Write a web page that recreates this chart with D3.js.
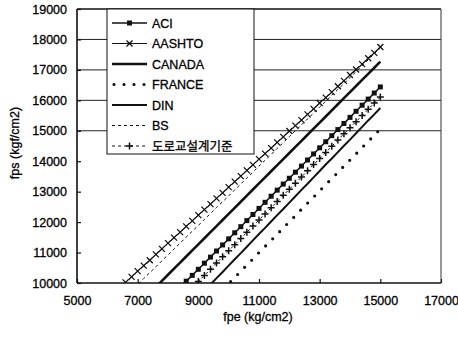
<!DOCTYPE html>
<html>
<head>
<meta charset="utf-8">
<script src="https://d3js.org/d3.v7.min.js"></script>
<style>
body {margin: 0; background: #fff;}
svg {display: block; font-family: 'Liberation Sans', Arial, sans-serif;}
svg text {stroke: #000; stroke-width: 0.3px;}
</style>
</head>
<body>
<div id="chart"></div>
<script>
// fpe (kg/cm2) sample points (every 200)
var fpe = [6600, 6800, 7000, 7200, 7400, 7600, 7800, 8000, 8200, 8400,
    8600, 8800, 9000, 9200, 9400, 9600, 9800, 10000, 10200, 10400,
    10600, 10800, 11000, 11200, 11400, 11600, 11800, 12000, 12200, 12400,
    12600, 12800, 13000, 13200, 13400, 13600, 13800, 14000, 14200, 14400,
    14600, 14800, 15000];

// fps (kgf/cm2) per code, values under 10000 fall below the axis and get clipped
var aci = [8060, 8260, 8460, 8660, 8860, 9060, 9260, 9460, 9660, 9860,
    10060, 10250, 10450, 10650, 10850, 11050, 11250, 11450, 11650, 11850,
    12050, 12250, 12450, 12650, 12850, 13050, 13250, 13440, 13640, 13840,
    14040, 14240, 14440, 14640, 14840, 15040, 15240, 15440, 15640, 15840,
    16040, 16240, 16440];
var aashto = [10020, 10200, 10390, 10570, 10750, 10940, 11120, 11310, 11490, 11670,
    11860, 12040, 12230, 12410, 12590, 12780, 12960, 13150, 13330, 13510,
    13700, 13880, 14070, 14250, 14430, 14620, 14800, 14990, 15170, 15350,
    15540, 15720, 15910, 16090, 16270, 16460, 16640, 16830, 17010, 17190,
    17380, 17560, 17750];
var canada = [8870, 9070, 9270, 9470, 9670, 9870, 10070, 10270, 10470, 10670,
    10870, 11070, 11270, 11470, 11670, 11870, 12070, 12270, 12470, 12670,
    12870, 13070, 13270, 13470, 13670, 13870, 14070, 14270, 14470, 14670,
    14870, 15070, 15270, 15470, 15670, 15870, 16070, 16270, 16470, 16670,
    16870, 17070, 17270];
var france = [6530, 6730, 6940, 7140, 7340, 7540, 7750, 7950, 8150, 8360,
    8560, 8760, 8970, 9170, 9370, 9570, 9780, 9980, 10180, 10390,
    10590, 10790, 11000, 11200, 11400, 11600, 11810, 12010, 12210, 12420,
    12620, 12820, 13030, 13230, 13430, 13630, 13840, 14040, 14240, 14450,
    14650, 14850, 15060];
var din = [7050, 7250, 7460, 7670, 7880, 8080, 8290, 8500, 8710, 8910,
    9120, 9330, 9530, 9740, 9950, 10160, 10360, 10570, 10780, 10980,
    11190, 11400, 11610, 11810, 12020, 12230, 12430, 12640, 12850, 13060,
    13260, 13470, 13680, 13890, 14090, 14300, 14510, 14710, 14920, 15130,
    15340, 15540, 15750];
var bs = [9560, 9760, 9950, 10150, 10340, 10530, 10730, 10920, 11120, 11310,
    11510, 11700, 11890, 12090, 12280, 12480, 12670, 12860, 13060, 13250,
    13450, 13640, 13840, 14030, 14220, 14420, 14610, 14810, 15000, 15190,
    15390, 15580, 15780, 15970, 16170, 16360, 16550, 16750, 16940, 17140,
    17330, 17530, 17720];
var korea = [7630, 7830, 8030, 8230, 8430, 8640, 8840, 9040, 9240, 9440,
    9650, 9850, 10050, 10250, 10450, 10660, 10860, 11060, 11260, 11460,
    11670, 11870, 12070, 12270, 12470, 12680, 12880, 13080, 13280, 13480,
    13690, 13890, 14090, 14290, 14490, 14700, 14900, 15100, 15300, 15500,
    15710, 15910, 16110];

var seriesNames = ['ACI', 'AASHTO', 'CANADA', 'FRANCE', 'DIN', 'BS', '도로교설계기준'];
var xTicks = [5000, 7000, 9000, 11000, 13000, 15000, 17000];
var yTicks = [10000, 11000, 12000, 13000, 14000, 15000, 16000, 17000, 18000, 19000];
var gridValues = [15000, 16000, 17000, 18000];

var width = 458, height = 338;
var plot = {left: 77, right: 441, top: 9, bottom: 283};

var styles = {
    'ACI': {width: 1.5, dash: null, marker: 'square'},
    'AASHTO': {width: 1, dash: null, marker: 'cross'},
    'CANADA': {width: 2.6, dash: null, marker: null},
    'FRANCE': {width: 3.2, dash: '0,10', marker: null, round: true},
    'DIN': {width: 2, dash: null, marker: null},
    'BS': {width: 1, dash: '3,3', marker: null},
    '도로교설계기준': {width: 1, dash: '3,3', marker: 'plus'}
};
var values = {
    'ACI': aci, 'AASHTO': aashto, 'CANADA': canada, 'FRANCE': france,
    'DIN': din, 'BS': bs, '도로교설계기준': korea
};

var x = d3.scaleLinear().domain([5000, 17000]).range([plot.left, plot.right]);
var y = d3.scaleLinear().domain([10000, 19000]).range([plot.bottom, plot.top]);

var svg = d3.select('#chart').append('svg')
    .attr('width', width)
    .attr('height', height);

svg.append('defs').append('clipPath')
    .attr('id', 'plotclip')
    .append('rect')
    .attr('x', plot.left)
    .attr('y', plot.top)
    .attr('width', plot.right - plot.left)
    .attr('height', plot.bottom - plot.top);

// gridlines
svg.append('g')
    .selectAll('line')
    .data(gridValues)
    .enter().append('line')
    .attr('x1', plot.left)
    .attr('x2', plot.right)
    .attr('y1', function(d) { return y(d); })
    .attr('y2', function(d) { return y(d); })
    .attr('stroke', '#222')
    .attr('stroke-width', 1);

// axes, ticks point inside like the original
var yAxis = d3.axisLeft(y).tickValues(yTicks).tickSize(-4).tickPadding(10).tickFormat(d3.format('d'));
var xAxis = d3.axisBottom(x).tickValues(xTicks).tickSize(-4).tickPadding(13).tickFormat(d3.format('d'));

var gy = svg.append('g')
    .attr('transform', translation(plot.left, 0))
    .call(yAxis);
var gx = svg.append('g')
    .attr('transform', translation(0, plot.bottom))
    .call(xAxis);

[gx, gy].forEach(function(g) {
    g.select('.domain').remove();
    g.selectAll('line').attr('stroke', '#111').attr('stroke-width', 1.2);
    g.selectAll('text')
        .attr('fill', '#000')
        .style('font-size', '12.5px')
        .style('font-family', "'Liberation Sans', Arial, sans-serif");
});

// frame
svg.append('line').attr('x1', plot.left).attr('x2', plot.right).attr('y1', plot.top).attr('y2', plot.top)
    .attr('stroke', '#111').attr('stroke-width', 1.5);
svg.append('line').attr('x1', plot.right).attr('x2', plot.right).attr('y1', plot.top).attr('y2', plot.bottom)
    .attr('stroke', '#333').attr('stroke-width', 1);
svg.append('line').attr('x1', plot.left).attr('x2', plot.left).attr('y1', plot.top).attr('y2', plot.bottom)
    .attr('stroke', '#111').attr('stroke-width', 1.6);
svg.append('line').attr('x1', plot.left).attr('x2', plot.right).attr('y1', plot.bottom).attr('y2', plot.bottom)
    .attr('stroke', '#111').attr('stroke-width', 1.6);

// series
var lineGen = d3.line()
    .x(function(d) { return x(d[0]); })
    .y(function(d) { return y(d[1]); });

var seriesG = svg.append('g').attr('clip-path', 'url(#plotclip)');

seriesNames.forEach(function(name) {
    var st = styles[name];
    var pts = fpe.map(function(f, i) { return [f, values[name][i]]; });
    seriesG.append('path')
        .datum(pts)
        .attr('d', lineGen)
        .attr('fill', 'none')
        .attr('stroke', '#111')
        .attr('stroke-width', st.width)
        .attr('stroke-dasharray', st.dash)
        .attr('stroke-linecap', st.round ? 'round' : 'butt');
    if (st.marker) {
        pts.forEach(function(p) {
            drawMarker(seriesG, st.marker, x(p[0]), y(p[1]));
        });
    }
});

// legend
var legend = svg.append('g').attr('transform', translation(107, plot.top));
legend.append('rect')
    .attr('x', 0)
    .attr('y', 0)
    .attr('width', 147)
    .attr('height', 145)
    .attr('fill', '#fff')
    .attr('stroke', '#111')
    .attr('stroke-width', 1);

seriesNames.forEach(function(name, i) {
    var st = styles[name];
    var ly = 14 + i * 20.5;
    legend.append('line')
        .attr('x1', name == 'FRANCE' ? 7 : 5)
        .attr('x2', 40)
        .attr('y1', ly)
        .attr('y2', ly)
        .attr('stroke', '#111')
        .attr('stroke-width', st.width)
        .attr('stroke-dasharray', st.dash)
        .attr('stroke-linecap', st.round ? 'round' : 'butt');
    if (st.marker) drawMarker(legend, st.marker, 22.5, ly);
    legend.append('text')
        .attr('x', 45)
        .attr('y', ly)
        .attr('dy', '0.36em')
        .attr('fill', '#000')
        .style('font-size', '12.5px')
        .style('font-family', name == '도로교설계기준' ? "'Noto Sans CJK KR', sans-serif" : "'Liberation Sans', Arial, sans-serif")
        .text(name);
});

// axis titles
svg.append('text')
    .attr('x', 258)
    .attr('y', 321)
    .attr('text-anchor', 'middle')
    .attr('fill', '#000')
    .style('font-size', '12.5px')
    .text('fpe (kg/cm2)');

svg.append('text')
    .attr('transform', translation(19, 143) + ' rotate(-90)')
    .attr('text-anchor', 'middle')
    .attr('fill', '#000')
    .style('font-size', '12.5px')
    .text('fps (kgf/cm2)');

/* HELPER FUNCTIONS */
function translation(a, b) {
    return 'translate(' + a + ',' + b + ')';
}

function drawMarker(g, type, cx, cy) {
    if (type == 'square') {
        g.append('rect')
            .attr('x', cx - 2.5)
            .attr('y', cy - 2.5)
            .attr('width', 5)
            .attr('height', 5)
            .attr('fill', '#111');
    } else if (type == 'cross') {
        var s = 3;
        g.append('path')
            .attr('d', 'M' + (cx - s) + ',' + (cy - s) + 'L' + (cx + s) + ',' + (cy + s) +
                'M' + (cx - s) + ',' + (cy + s) + 'L' + (cx + s) + ',' + (cy - s))
            .attr('stroke', '#111')
            .attr('stroke-width', 1.3)
            .attr('fill', 'none');
    } else if (type == 'plus') {
        var p = 3.5;
        g.append('path')
            .attr('d', 'M' + (cx - p) + ',' + cy + 'L' + (cx + p) + ',' + cy +
                'M' + cx + ',' + (cy - p) + 'L' + cx + ',' + (cy + p))
            .attr('stroke', '#111')
            .attr('stroke-width', 1.5)
            .attr('fill', 'none');
    }
}
</script>
</body>
</html>
